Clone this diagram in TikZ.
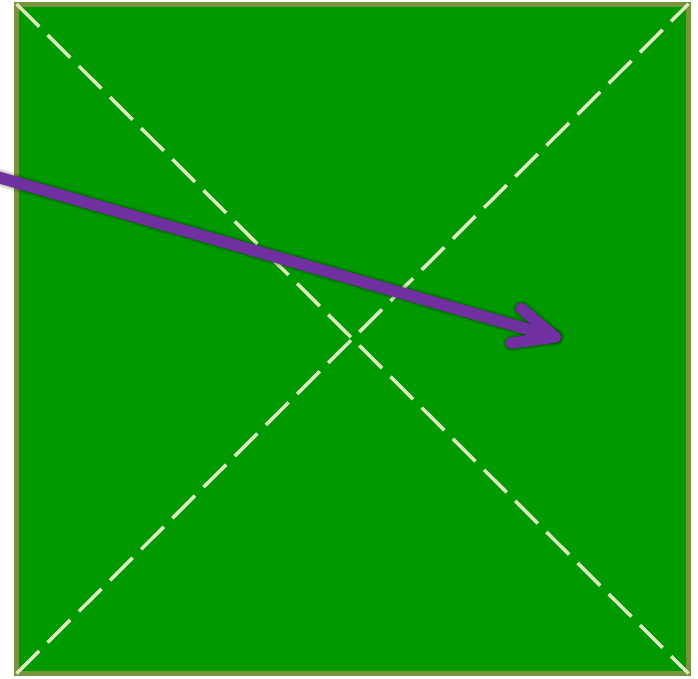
\documentclass[tikz,border=0pt]{standalone}
\definecolor{sqfill}{HTML}{009900}
\definecolor{sqborder}{HTML}{77933C}
\definecolor{dashcol}{HTML}{DDEBC0}
\definecolor{arrowcol}{HTML}{7030A0}
\begin{document}
\begin{tikzpicture}[x=1pt,y=-1pt,
  sqbox/.style={draw=sqborder,fill=sqfill,line width=5pt,minimum width=672pt,minimum height=669.5pt,inner sep=0pt,outer sep=0pt},
  diag/.style={draw=dashcol,line width=3.5pt,dash pattern=on 32pt off 12pt},
  arrowline/.style={draw=arrowcol,line width=11.5pt,line cap=round,line join=round},
  shadowline/.style={draw=black,line cap=round,line join=round}]
\useasboundingbox (0,0) rectangle (698,678);
\node[sqbox] (sq) at (352.5,338.75) {};
\draw[diag] (sq.north west) -- (sq.south east);
\draw[diag] (sq.south west) -- (sq.north east);
\coordinate (start) at (-20,172);
\coordinate (tip) at (555,337);
\coordinate (w1) at (521.4,308.6);
\coordinate (w2) at (511.4,343);
% soft shadow
\begin{scope}[shift={(3,5)}]
  \foreach \w/\o in {18/0.08,15/0.12,12/0.22}{
    \draw[shadowline,line width=\w pt,opacity=\o] (start) -- (tip);
    \draw[shadowline,line width=\w pt,opacity=\o] (w1) -- (tip) -- (w2);
  }
\end{scope}
\draw[arrowline] (start) -- (tip);
\draw[arrowline] (w1) -- (tip) -- (w2);
\end{tikzpicture}
\end{document}
